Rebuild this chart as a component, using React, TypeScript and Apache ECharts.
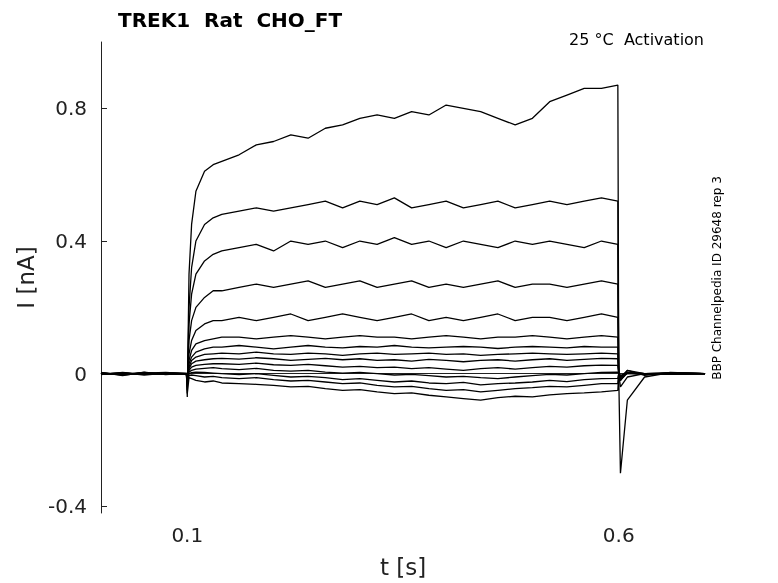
import { useEffect, useRef } from 'react'
import * as echarts from 'echarts'

// time grid (s)
const times = [0, 0.025, 0.05, 0.075, 0.099, 0.1, 0.102, 0.105, 0.11, 0.12, 0.13, 0.14, 0.16, 0.18, 0.2, 0.22, 0.24, 0.26, 0.28, 0.3, 0.32, 0.34, 0.36, 0.38, 0.4, 0.42, 0.44, 0.46, 0.48, 0.5, 0.52, 0.54, 0.56, 0.58, 0.599, 0.6, 0.602, 0.61, 0.63, 0.66, 0.7]

// current traces (nA)
const trace1 = [0.004, -0.006, 0.005, -0.003, 0.002, -0.07, 0.3, 0.45, 0.55, 0.61, 0.63, 0.64, 0.66, 0.69, 0.7, 0.72, 0.71, 0.74, 0.75, 0.77, 0.78, 0.77, 0.79, 0.78, 0.81, 0.8, 0.79, 0.77, 0.75, 0.77, 0.82, 0.84, 0.86, 0.86, 0.87, 0.01, -0.01, 0.01, -0.005, 0.004, 0]
const trace2 = [0.003, -0.004, 0.002, 0.004, 0, -0.05, 0.2, 0.32, 0.4, 0.45, 0.47, 0.48, 0.49, 0.5, 0.49, 0.5, 0.51, 0.52, 0.5, 0.52, 0.51, 0.53, 0.5, 0.51, 0.52, 0.5, 0.51, 0.52, 0.5, 0.51, 0.52, 0.51, 0.52, 0.53, 0.52, 0, -0.02, 0.01, 0, 0.003, 0]
const trace3 = [-0.003, 0.004, -0.002, 0.003, 0, -0.04, 0.15, 0.24, 0.3, 0.34, 0.36, 0.37, 0.38, 0.39, 0.37, 0.4, 0.39, 0.4, 0.38, 0.4, 0.39, 0.41, 0.39, 0.4, 0.38, 0.4, 0.39, 0.38, 0.4, 0.39, 0.4, 0.39, 0.38, 0.4, 0.39, 0, -0.02, 0.005, -0.003, 0.002, 0]
const trace4 = [0.002, -0.003, 0.004, -0.002, 0, -0.03, 0.1, 0.16, 0.2, 0.23, 0.25, 0.25, 0.26, 0.27, 0.26, 0.27, 0.28, 0.26, 0.27, 0.28, 0.26, 0.27, 0.28, 0.26, 0.27, 0.26, 0.27, 0.28, 0.26, 0.27, 0.27, 0.26, 0.27, 0.28, 0.27, 0, -0.015, 0.004, 0, -0.002, 0]
const trace5 = [-0.002, 0.003, -0.004, 0.002, 0, -0.03, 0.06, 0.1, 0.13, 0.15, 0.16, 0.16, 0.17, 0.16, 0.17, 0.18, 0.16, 0.17, 0.18, 0.17, 0.16, 0.17, 0.18, 0.16, 0.17, 0.16, 0.17, 0.18, 0.16, 0.17, 0.17, 0.16, 0.17, 0.18, 0.17, 0, -0.01, 0.003, -0.002, 0.002, 0]
const trace6 = [0.001, -0.002, 0.003, -0.001, 0, -0.025, 0.04, 0.07, 0.09, 0.1, 0.105, 0.11, 0.11, 0.105, 0.11, 0.115, 0.11, 0.105, 0.11, 0.115, 0.11, 0.11, 0.105, 0.11, 0.115, 0.11, 0.105, 0.11, 0.11, 0.115, 0.11, 0.105, 0.11, 0.115, 0.11, 0, -0.01, 0.002, 0, 0.001, 0]
const trace7 = [-0.001, 0.002, -0.002, 0.001, 0, -0.02, 0.03, 0.05, 0.065, 0.075, 0.08, 0.08, 0.085, 0.08, 0.075, 0.08, 0.085, 0.08, 0.078, 0.082, 0.08, 0.085, 0.08, 0.078, 0.08, 0.082, 0.08, 0.076, 0.08, 0.082, 0.08, 0.078, 0.082, 0.08, 0.08, 0, -0.01, 0.002, -0.001, 0.001, 0]
const trace8 = [0.002, -0.001, 0.001, -0.002, 0, -0.02, 0.02, 0.04, 0.05, 0.058, 0.06, 0.062, 0.06, 0.065, 0.06, 0.058, 0.062, 0.06, 0.055, 0.06, 0.062, 0.058, 0.06, 0.062, 0.058, 0.06, 0.055, 0.058, 0.06, 0.062, 0.06, 0.058, 0.06, 0.062, 0.06, 0, -0.008, 0.002, 0, -0.001, 0]
const trace9 = [-0.002, 0.001, -0.001, 0.002, 0, -0.02, 0.015, 0.03, 0.038, 0.042, 0.045, 0.046, 0.044, 0.048, 0.045, 0.04, 0.043, 0.046, 0.042, 0.045, 0.04, 0.042, 0.038, 0.043, 0.04, 0.036, 0.04, 0.042, 0.038, 0.042, 0.045, 0.04, 0.043, 0.046, 0.045, 0, -0.008, 0.001, 0, 0.001, 0]
const trace10 = [0.001, -0.002, 0.002, -0.001, 0, -0.02, 0.01, 0.02, 0.025, 0.028, 0.03, 0.03, 0.028, 0.032, 0.027, 0.025, 0.028, 0.024, 0.02, 0.022, 0.018, 0.02, 0.015, 0.018, 0.014, 0.01, 0.015, 0.018, 0.014, 0.018, 0.022, 0.02, 0.024, 0.026, 0.025, 0, -0.006, 0.002, -0.001, 0.001, 0]
const trace11 = [-0.001, 0.002, -0.002, 0.001, 0, -0.02, 0.005, 0.01, 0.014, 0.016, 0.018, 0.015, 0.012, 0.016, 0.01, 0.008, 0.01, 0.005, 0.002, 0.004, 0, -0.004, -0.002, -0.006, -0.01, -0.008, -0.012, -0.015, -0.01, -0.006, -0.002, -0.004, 0, 0.004, 0.005, 0, -0.006, 0.001, 0, -0.001, 0]
const trace12 = [0.002, -0.002, 0.001, -0.002, 0, -0.03, 0, 0.003, 0.005, 0.004, 0.002, 0, -0.003, 0, -0.005, -0.01, -0.008, -0.012, -0.018, -0.015, -0.02, -0.025, -0.022, -0.028, -0.03, -0.026, -0.034, -0.03, -0.028, -0.025, -0.02, -0.024, -0.018, -0.015, -0.014, 0, -0.02, 0.002, 0, 0.001, 0]
const trace13 = [-0.002, 0.001, -0.002, 0.002, 0, -0.03, -0.005, -0.004, -0.006, -0.01, -0.008, -0.012, -0.015, -0.012, -0.018, -0.022, -0.02, -0.025, -0.03, -0.028, -0.035, -0.04, -0.038, -0.045, -0.05, -0.048, -0.055, -0.05, -0.045, -0.042, -0.038, -0.04, -0.035, -0.03, -0.03, 0, -0.04, -0.01, 0, -0.002, 0]
const trace14 = [0.001, -0.003, 0.002, -0.001, 0, -0.06, -0.012, -0.015, -0.02, -0.025, -0.022, -0.028, -0.03, -0.032, -0.035, -0.04, -0.038, -0.045, -0.05, -0.048, -0.055, -0.06, -0.058, -0.065, -0.07, -0.075, -0.08, -0.072, -0.068, -0.07, -0.064, -0.06, -0.058, -0.055, -0.05, 0, -0.3, -0.08, -0.01, 0.003, 0]

const traces = [trace1, trace2, trace3, trace4, trace5, trace6, trace7, trace8, trace9, trace10, trace11, trace12, trace13, trace14]

const yTicks = [-0.4, 0, 0.4, 0.8]
const xTicks = [0.1, 0.6]

export default function App() {
  const chartRef = useRef<HTMLDivElement>(null)

  useEffect(() => {
    if (!chartRef.current) return
    const chart = echarts.init(chartRef.current, null, { renderer: 'svg' })
    const font = 'DejaVu Sans'
    chart.setOption({
      animation: false,
      textStyle: { fontFamily: font },
      grid: { left: 101, top: 42, right: 73, bottom: 68 },
      title: {
        text: 'TREK1  Rat  CHO_FT',
        left: 113,
        top: 5,
        textStyle: { fontFamily: font, fontSize: 20, fontWeight: 'bold', color: '#000' },
      },
      graphic: [
        {
          type: 'text', right: 74, top: 31,
          style: { text: '25 °C  Activation', font: `16px ${font}`, fill: '#000' },
        },
        {
          type: 'text', x: 717, y: 278, rotation: Math.PI / 2,
          style: {
            text: 'BBP Channelpedia ID 29648 rep 3', font: `12px ${font}`, fill: '#000',
            align: 'center', verticalAlign: 'middle',
          },
        },
      ],
      xAxis: {
        type: 'value', min: 0, max: 0.7,
        name: 't [s]', nameLocation: 'middle', nameGap: 42,
        nameTextStyle: { fontSize: 23, color: '#222', fontFamily: font },
        axisLine: { lineStyle: { color: '#222' } },
        axisTick: { customValues: xTicks, inside: true, length: 6, lineStyle: { color: '#222' } },
        axisLabel: { customValues: xTicks, fontSize: 20, color: '#222', fontFamily: font, margin: 12 },
        splitLine: { show: false },
      },
      yAxis: {
        type: 'value', min: -0.42, max: 1.0,
        name: 'I [nA]', nameLocation: 'middle', nameGap: 58,
        nameTextStyle: { fontSize: 23, color: '#222', fontFamily: font },
        axisLine: { show: true, lineStyle: { color: '#222' } },
        axisTick: { show: true, customValues: yTicks, inside: true, length: 6, lineStyle: { color: '#222' } },
        axisLabel: { customValues: yTicks, fontSize: 20, color: '#222', fontFamily: font, margin: 14 },
        splitLine: { show: false },
      },
      series: traces.map((vals) => ({
        type: 'line',
        data: times.map((t, i) => [t, vals[i]]),
        symbol: 'none',
        lineStyle: { color: '#000', width: 1.3 },
      })),
    })
    return () => chart.dispose()
  }, [])

  return (
    <div
      ref={chartRef}
      style={{ position: 'fixed', left: 0, top: 0, width: 778, height: 583 }}
    />
  )
}
